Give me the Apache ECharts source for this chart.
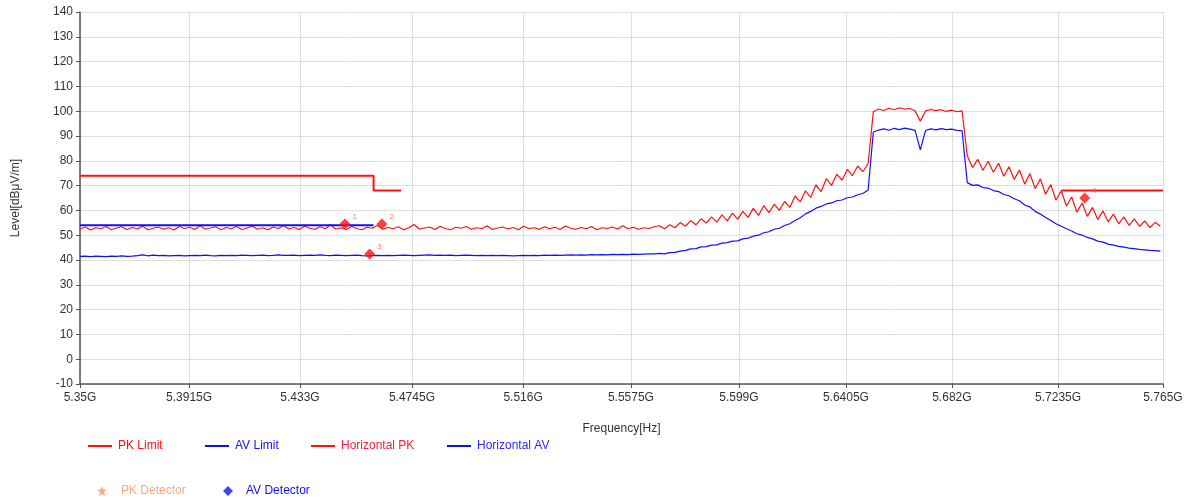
<!DOCTYPE html>
<html>
<head>
<meta charset="utf-8">
<script src="https://cdn.jsdelivr.net/npm/echarts@6/dist/echarts.min.js"></script>
<style>
html,body{margin:0;padding:0;background:#fff;}
#chart{width:1193px;height:501px;}
</style>
</head>
<body>
<div id="chart"></div>
<script>
// ---------------- DATA ----------------
const axisStartMHz = 5350;
const axisEndMHz = 5765;
const xTickLabels = ['5.35G','5.3915G','5.433G','5.4745G','5.516G','5.5575G','5.599G','5.6405G','5.682G','5.7235G','5.765G'];
// where the analyser software drew each labelled grid line (MHz)
const xTickMHz = [5350, 5391.8, 5434.3, 5477.2, 5519.8, 5561.1, 5602.5, 5643.5, 5684.1, 5724.8, 5765];
const yMin = -10, yMax = 140, yStep = 10;

// sweep grid of the analyser trace
const sweepStartMHz = 5350;
const sweepStepMHz = 2;

// Horizontal PK trace (dBuV/m), one value per sweep point
const horizontalPK = [
52.4,53.3,52.1,53.0,52.6,53.5,52.2,52.9,53.4,52.3,
53.1,52.5,53.6,52.2,52.8,53.3,52.4,53.0,52.1,53.5,
52.7,53.2,52.3,53.8,52.5,52.9,53.4,52.2,53.1,52.6,
53.5,52.3,52.9,53.7,52.4,53.0,52.2,53.3,52.7,53.9,
52.5,53.1,52.3,53.6,52.8,52.4,53.4,52.6,54.2,52.5,
53.0,52.3,53.5,52.7,52.2,53.2,52.8,54.0,52.4,53.1,
52.6,53.4,52.2,53.0,54.3,52.5,52.9,53.3,52.3,53.6,
52.7,52.2,53.2,52.8,53.5,52.4,53.0,52.6,53.8,52.3,
52.9,53.3,52.5,53.1,52.2,53.6,52.7,53.0,52.4,53.4,
52.6,53.2,52.3,53.7,52.8,52.4,53.1,52.6,53.5,52.2,
53.0,52.7,53.3,52.5,53.8,52.6,53.2,52.4,53.0,52.7,
53.4,
53.8,52.6,54.2,53.0,55.1,53.6,55.9,54.2,56.6,54.9,
57.4,55.3,58.2,55.8,58.9,56.5,59.6,57.2,60.8,58.0,
61.9,59.1,62.5,60.0,63.6,61.2,65.8,63.4,67.9,65.2,
70.3,67.6,72.8,70.1,74.6,72.2,76.5,74.0,77.9,75.6,
78.8,
99.8,100.9,100.3,101.2,100.6,101.4,100.8,101.1,100.2,96.0,
100.1,100.7,100.2,100.6,99.9,100.4,99.8,100.1,
82.0,77.3,80.6,76.2,79.8,75.4,79.0,73.8,77.6,72.5,
76.3,70.6,74.9,68.8,72.7,66.5,70.4,64.1,67.9,61.8,
65.4,59.3,63.0,57.6,61.2,56.3,59.8,55.4,58.5,54.6,
57.4,54.0,56.6,53.5,55.8,53.1,55.2,53.6
];

// Horizontal AV trace (dBuV/m)
const horizontalAV = [
41.5,41.6,41.4,41.6,41.5,41.4,41.6,41.5,41.7,41.5,
41.6,41.8,42.1,41.7,42.0,41.8,41.9,41.7,41.8,41.9,
41.7,41.8,41.9,41.8,42.0,41.8,41.7,41.9,41.8,41.9,
41.8,42.0,41.9,41.8,41.9,42.0,41.8,41.9,42.1,41.9,
41.9,42.0,41.8,41.9,42.0,41.9,42.1,41.9,41.8,42.0,
41.9,41.8,41.9,42.0,41.8,41.7,41.8,41.9,41.8,41.9,
41.8,41.9,42.0,41.9,41.8,41.9,42.0,42.1,41.9,42.0,
41.9,42.0,41.8,41.9,42.0,41.9,41.8,41.9,41.8,41.9,
41.8,41.9,41.8,41.7,41.8,41.9,41.8,41.9,41.8,42.0,
41.9,42.0,41.9,42.0,42.1,42.0,42.1,42.0,42.2,42.1,
42.2,42.1,42.3,42.2,42.3,42.2,42.4,42.3,42.4,42.5,
42.5,
42.7,42.5,43.0,43.1,43.6,43.9,44.5,44.6,45.3,45.4,
46.0,46.1,46.8,47.0,47.6,47.7,48.5,48.8,49.6,50.0,
51.0,51.4,52.4,52.8,53.9,54.6,55.9,57.0,58.6,59.6,
60.9,61.6,62.6,63.0,63.9,64.2,65.1,65.4,66.3,66.8,
68.2,
91.6,92.4,92.9,92.3,93.1,92.6,93.2,92.8,92.3,84.4,
92.2,92.9,92.5,93.0,92.6,92.8,92.3,92.1,
71.2,70.1,70.3,69.2,69.0,68.0,67.6,66.4,65.9,64.7,
63.9,62.2,61.4,59.6,58.5,57.1,55.9,54.6,53.6,52.6,
51.7,50.6,50.0,49.1,48.5,47.6,47.2,46.4,46.0,45.5,
45.2,44.8,44.6,44.3,44.1,43.9,43.8,43.6
];

// Limit lines [MHz, dBuV/m]
const pkLimitLow = [[5350,74],[5462.5,74],[5462.5,68],[5473,68]];
const pkLimitHigh = [[5726,68],[5765,68]];
const avLimit = [[5350,54],[5462.5,54]];

// Detector readings [MHz, dBuV/m]
const pkDetector = [[5451.5,54.5],[5465.7,54.5],[5735,65.0]];
const pkDetectorTags = ['1','2','4'];
const avDetector = [[5461,42.4]];
const avDetectorTags = ['3'];

// ---------------- BUILD ----------------
const toX = f => f - axisStartMHz;
const pairs = arr => arr.map(p => [toX(p[0]), p[1]]);
const sweep = arr => arr.map((v, i) => [toX(sweepStartMHz + i * sweepStepMHz), v]);
const xTickVals = xTickMHz.map(toX);
const labelFor = v => {
  let best = 0;
  xTickVals.forEach((t, i) => { if (Math.abs(t - v) < Math.abs(xTickVals[best] - v)) best = i; });
  return xTickLabels[best];
};

const RED = '#ff1010';
const BLUE = '#1010ff';
const FONT = "'Liberation Sans', Arial, sans-serif";

const chart = echarts.init(document.getElementById('chart'), null, {renderer: 'canvas'});

function legendItem(name, left, top, iconOpt, textColor, w, h, textPad) {
  return {
    show: true, left: left, top: top, padding: 0, selectedMode: false,
    itemWidth: w, itemHeight: h, itemGap: 0,
    data: [Object.assign({name: name, textStyle: {color: textColor}}, iconOpt)],
    textStyle: {fontFamily: FONT, fontSize: 12, color: textColor, padding: [0,0,0,textPad]}
  };
}

const option = {
  animation: false,
  backgroundColor: '#ffffff',
  textStyle: {fontFamily: FONT},
  grid: {left: 80, right: 30, top: 12, bottom: 117, containLabel: false},
  legend: [
    legendItem('PK Limit', 88, 440, {icon: 'rect', itemStyle: {color: RED}}, RED, 24, 2, 1),
    legendItem('AV Limit', 205, 440, {icon: 'rect', itemStyle: {color: BLUE}}, BLUE, 24, 2, 1),
    legendItem('Horizontal PK', 311, 440, {icon: 'rect', itemStyle: {color: RED}}, '#f0203c', 24, 2, 1),
    legendItem('Horizontal AV', 447, 440, {icon: 'rect', itemStyle: {color: BLUE}}, '#2a2aff', 24, 2, 1),
    legendItem('PK Detector', 97, 485, {icon: 'path://M5,0 L6.3,3.4 L10,3.7 L7.1,6.1 L8.1,10 L5,7.8 L1.9,10 L2.9,6.1 L0,3.7 L3.7,3.4 Z', itemStyle: {color: '#f59a62'}}, '#f7ab82', 10, 10, 9),
    legendItem('AV Detector', 223, 485, {icon: 'diamond', itemStyle: {color: BLUE}}, BLUE, 10, 10, 8)
  ],
  xAxis: {
    type: 'value', min: 0, max: toX(axisEndMHz),
    name: 'Frequency[Hz]', nameLocation: 'middle', nameGap: 39,
    nameTextStyle: {color: '#333', fontSize: 12, fontFamily: FONT},
    axisLine: {show: true, onZero: false, lineStyle: {color: '#555', width: 1.5}},
    axisTick: {show: true, length: 4, lineStyle: {color: '#555'}, customValues: xTickVals},
    axisLabel: {color: '#333', fontSize: 12, margin: 8, fontFamily: FONT,
      customValues: xTickVals, formatter: v => labelFor(v)},
    splitLine: {show: true, lineStyle: {color: '#dedede', width: 1}, customValues: xTickVals}
  },
  yAxis: {
    type: 'value', min: yMin, max: yMax, interval: yStep,
    name: 'Level[dBμV/m]', nameLocation: 'middle', nameGap: 58, nameRotate: 90,
    nameTextStyle: {color: '#333', fontSize: 12, fontFamily: FONT},
    axisLine: {show: true, onZero: false, lineStyle: {color: '#555', width: 1.5}},
    axisTick: {show: true, length: 4, lineStyle: {color: '#555'}},
    axisLabel: {color: '#333', fontSize: 12, margin: 7, fontFamily: FONT},
    splitLine: {show: true, lineStyle: {color: '#dedede', width: 1}}
  },
  series: [
    {name: 'Horizontal AV', type: 'line', data: sweep(horizontalAV), showSymbol: false, symbol: 'none',
     lineStyle: {color: BLUE, width: 1.2}, itemStyle: {color: BLUE}, z: 2},
    {name: 'Horizontal PK', type: 'line', data: sweep(horizontalPK), showSymbol: false, symbol: 'none',
     lineStyle: {color: RED, width: 1.2}, itemStyle: {color: RED}, z: 3},
    {name: 'AV Limit', type: 'line', data: pairs(avLimit), showSymbol: false, symbol: 'none',
     lineStyle: {color: BLUE, width: 2}, itemStyle: {color: BLUE}, z: 4},
    {name: 'PK Limit', type: 'line', data: pairs(pkLimitLow), showSymbol: false, symbol: 'none',
     lineStyle: {color: RED, width: 2}, itemStyle: {color: RED}, z: 4},
    {name: 'PK Limit', type: 'line', data: pairs(pkLimitHigh), showSymbol: false, symbol: 'none',
     lineStyle: {color: RED, width: 2}, itemStyle: {color: RED}, z: 4},
    {name: 'PK Detector', type: 'scatter', data: pairs(pkDetector), symbol: 'diamond', symbolSize: 11,
     itemStyle: {color: RED}, z: 6,
     label: {show: true, position: 'right', offset: [-3, -7], fontSize: 8, color: '#f06060',
       formatter: p => pkDetectorTags[p.dataIndex]}},
    {name: 'AV Detector', type: 'scatter', data: pairs(avDetector), symbol: 'diamond', symbolSize: 11,
     itemStyle: {color: RED}, z: 6,
     label: {show: true, position: 'right', offset: [-3, -7], fontSize: 8, color: '#f06060',
       formatter: p => avDetectorTags[p.dataIndex]}}
  ]
};
chart.setOption(option);
</script>
</body>
</html>
